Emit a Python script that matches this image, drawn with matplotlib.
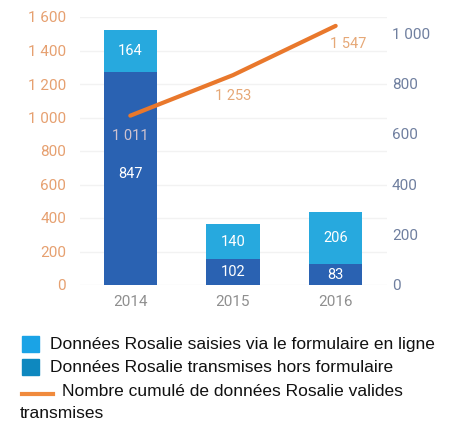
import matplotlib
matplotlib.use("Agg")
import matplotlib.pyplot as plt
from matplotlib.patches import Rectangle
from matplotlib.lines import Line2D

years = ["2014", "2015", "2016"]
hors_formulaire = [847, 102, 83]
formulaire = [164, 140, 206]
cumul = [1011, 1253, 1547]
left_ticks = [0, 200, 400, 600, 800, 1000, 1200, 1400, 1600]
right_ticks = [0, 200, 400, 600, 800, 1000]
legend_labels = ["Données Rosalie saisies via le formulaire en ligne",
                 "Données Rosalie transmises hors formulaire",
                 "Nombre cumulé de données Rosalie valides\ntransmises"]

def fmt(v):
    return f"{v:,}".replace(",", " ")

W, H = 459, 425
fig = plt.figure(figsize=(W/100, H/100), dpi=100)
rect = [80/W, 1-285/H, (387-80)/W, (285-17)/H]
ax = fig.add_axes(rect)            # left axis + grid (bottom)
ax2 = ax.twinx()                   # bars, right axis
ax3 = fig.add_axes(rect, sharex=ax, sharey=ax)  # line on top
ax3.patch.set_visible(False)
ax3.axis("off")
ax.set_zorder(0)
ax2.set_zorder(1)
ax3.set_zorder(2)
ax2.patch.set_visible(False)

x = list(range(len(years)))
dark = "#2a62b2"
light = "#27a9de"
orange = "#e9782c"

ax2.bar(x, hors_formulaire, width=0.52, color=dark, zorder=2)
ax2.bar(x, formulaire, width=0.52, bottom=hors_formulaire, color=light, zorder=2)
lab_fs = 10.5
for i in x:
    ax2.text(i, hors_formulaire[i]/2 if i else hors_formulaire[i]*0.52, str(hors_formulaire[i]),
             ha="center", va="center", color="white", fontsize=lab_fs, family="Roboto")
    ax2.text(i, hors_formulaire[i] + formulaire[i]/2, str(formulaire[i]),
             ha="center", va="center", color="white", fontsize=lab_fs, family="Roboto")

ax3.plot(x, cumul, color=orange, lw=3, solid_capstyle="round", zorder=3)
offs = [(0, -15), (0, -15), (9, -13)]
lab_cols = ["#cfc3d0", "#e6a877", "#e6a877"]
for i in x:
    ax3.annotate(fmt(cumul[i]), (i, cumul[i]), xytext=offs[i], textcoords="offset points",
                 ha="center", va="center", color=lab_cols[i], fontsize=lab_fs, family="Roboto")

ax.set_xlim(-0.49, 2.5)
ax.set_ylim(0, 1600)
ax2.set_ylim(0, 1064)
ax.set_yticks(left_ticks)
ax.set_yticklabels([fmt(v) for v in left_ticks], color="#e6a070", fontsize=11, family="Roboto")
ax2.set_yticks(right_ticks)
ax2.set_yticklabels([fmt(v) for v in right_ticks], color="#6f7f9f", fontsize=11, family="Roboto")
ax.set_xticks(x)
ax.set_xticklabels(years, color="#8f8f8f", fontsize=11, family="Roboto")
ax.tick_params(length=0, axis="x", pad=7)
ax.tick_params(length=0, axis="y", pad=10)
ax2.tick_params(length=0, pad=3.5)
ax.grid(axis="y", color="#f2f2f2", lw=1)
for a in (ax, ax2):
    for s in a.spines.values():
        s.set_visible(False)

# clipping of the original crop on the right
fig.patches.append(Rectangle((436/W, 1-300/H), 1-436/W, 300/H, transform=fig.transFigure,
                             color="white", zorder=10))

# legend
fs = 12.5
fig.patches.append(Rectangle((22/W, 1-352/H), 17/W, 16/H, transform=fig.transFigure,
                             color="#1aa3e6", zorder=5))
fig.patches.append(Rectangle((22/W, 1-375/H), 17/W, 16/H, transform=fig.transFigure,
                             color="#0e88bf", zorder=5))
fig.lines.append(Line2D([22/W, 53/W], [1-394/H, 1-394/H], transform=fig.transFigure,
                        color="#f08a3c", lw=3))
fig.text(50/W, 1-345/H, legend_labels[0], ha="left", va="center", fontsize=fs,
         family="Liberation Sans", color="#111111")
fig.text(50/W, 1-368/H, legend_labels[1], ha="left", va="center", fontsize=fs,
         family="Liberation Sans", color="#111111")
l3a, l3b = legend_labels[2].split("\n")
fig.text(62/W, 1-392/H, l3a, ha="left", va="center", fontsize=fs,
         family="Liberation Sans", color="#111111")
fig.text(20/W, 1-413/H, l3b, ha="left", va="center", fontsize=fs,
         family="Liberation Sans", color="#111111")

fig.savefig("out.png", dpi=100)
